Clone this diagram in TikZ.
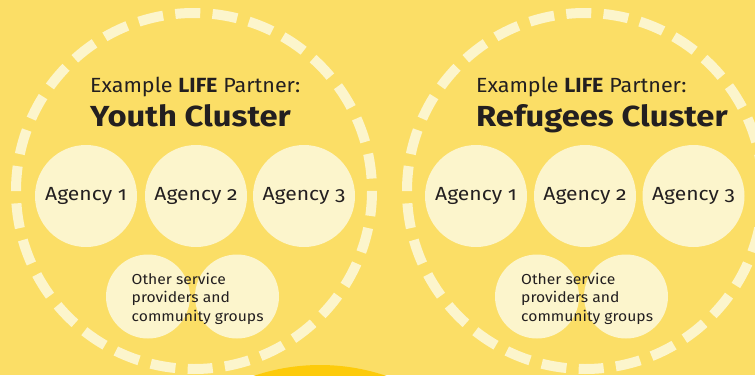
\documentclass[tikz,border=0pt]{standalone}
\usepackage{fontspec}
\setmainfont{Fira Sans}[Numbers=OldStyle]
\definecolor{bgyellow}{HTML}{FBDE66}
\definecolor{cream}{HTML}{FCF5CC}
\definecolor{sun}{HTML}{FDCB0B}
\definecolor{ink}{HTML}{231F20}
\begin{document}
\begin{tikzpicture}[x=1pt,y=-1pt,
  ring/.style={draw=cream, line width=10pt, dash pattern=on 25pt off 12.28pt},
  agency/.style={circle, fill=cream, minimum size=102pt, inner sep=0pt,
    text=ink, font=\fontsize{19}{22}\selectfont\addfontfeature{FakeStretch=1.11}},
  partner/.style={circle, fill=cream, minimum size=84pt, inner sep=0pt},
  kicker/.style={anchor=base west, text=ink, inner sep=0pt,
    font=\fontsize{20.5}{24}\selectfont\addfontfeature{FakeStretch=1.05}},
  cluster/.style={anchor=base west, text=ink, inner sep=0pt,
    font=\fontsize{29}{34}\selectfont\bfseries\addfontfeature{FakeStretch=1.13}},
  others/.style={anchor=base west, text=ink, inner sep=0pt, align=left,
    font=\fontsize{14.5}{18.5}\selectfont\addfontfeature{FakeStretch=1.08}}]
  % background
  \fill[bgyellow] (0,0) rectangle (755,375);
  \useasboundingbox (0,0) rectangle (755,375);
  % bright disc rising from the bottom edge
  \begin{scope}
    \clip (0,0) rectangle (755,375);
    \fill[sun] (320,571) circle[radius=206];
  \end{scope}

  % ---- Youth cluster ----
  \coordinate (youth) at (194,191);
  \draw[ring] (youth) circle[radius=178];
  \node[kicker] (youthkick) at (90,92) {Example \textbf{LIFE} Partner:};
  \node[cluster] (youthname) at (90,126) {Youth Cluster};
  \node[agency] (ya1) at (86,196) {Agency 1};
  \node[agency] (ya2) at (196,196) {Agency 2};
  \node[agency] (ya3) at (304,196) {Agency 3};
  \node[partner] (yp1) at (148,296.5) {};
  \node[partner] (yp2) at (237,296.5) {};
  \node[others] (yother) at (131.5,321) {Other service\\providers and\\community groups};

  % ---- Refugees cluster ----
  \coordinate (refugees) at (585,191);
  \draw[ring] (refugees) circle[radius=178];
  \node[kicker] (refkick) at (476,92) {Example \textbf{LIFE} Partner:};
  \node[cluster] (refname) at (476,126) {Refugees Cluster};
  \node[agency] (ra1) at (476,196) {Agency 1};
  \node[agency] (ra2) at (585,196) {Agency 2};
  \node[agency] (ra3) at (693.5,196) {Agency 3};
  \node[partner] (rp1) at (537,296.5) {};
  \node[partner] (rp2) at (626,296.5) {};
  \node[others] (rother) at (521,321) {Other service\\providers and\\community groups};
\end{tikzpicture}
\end{document}
